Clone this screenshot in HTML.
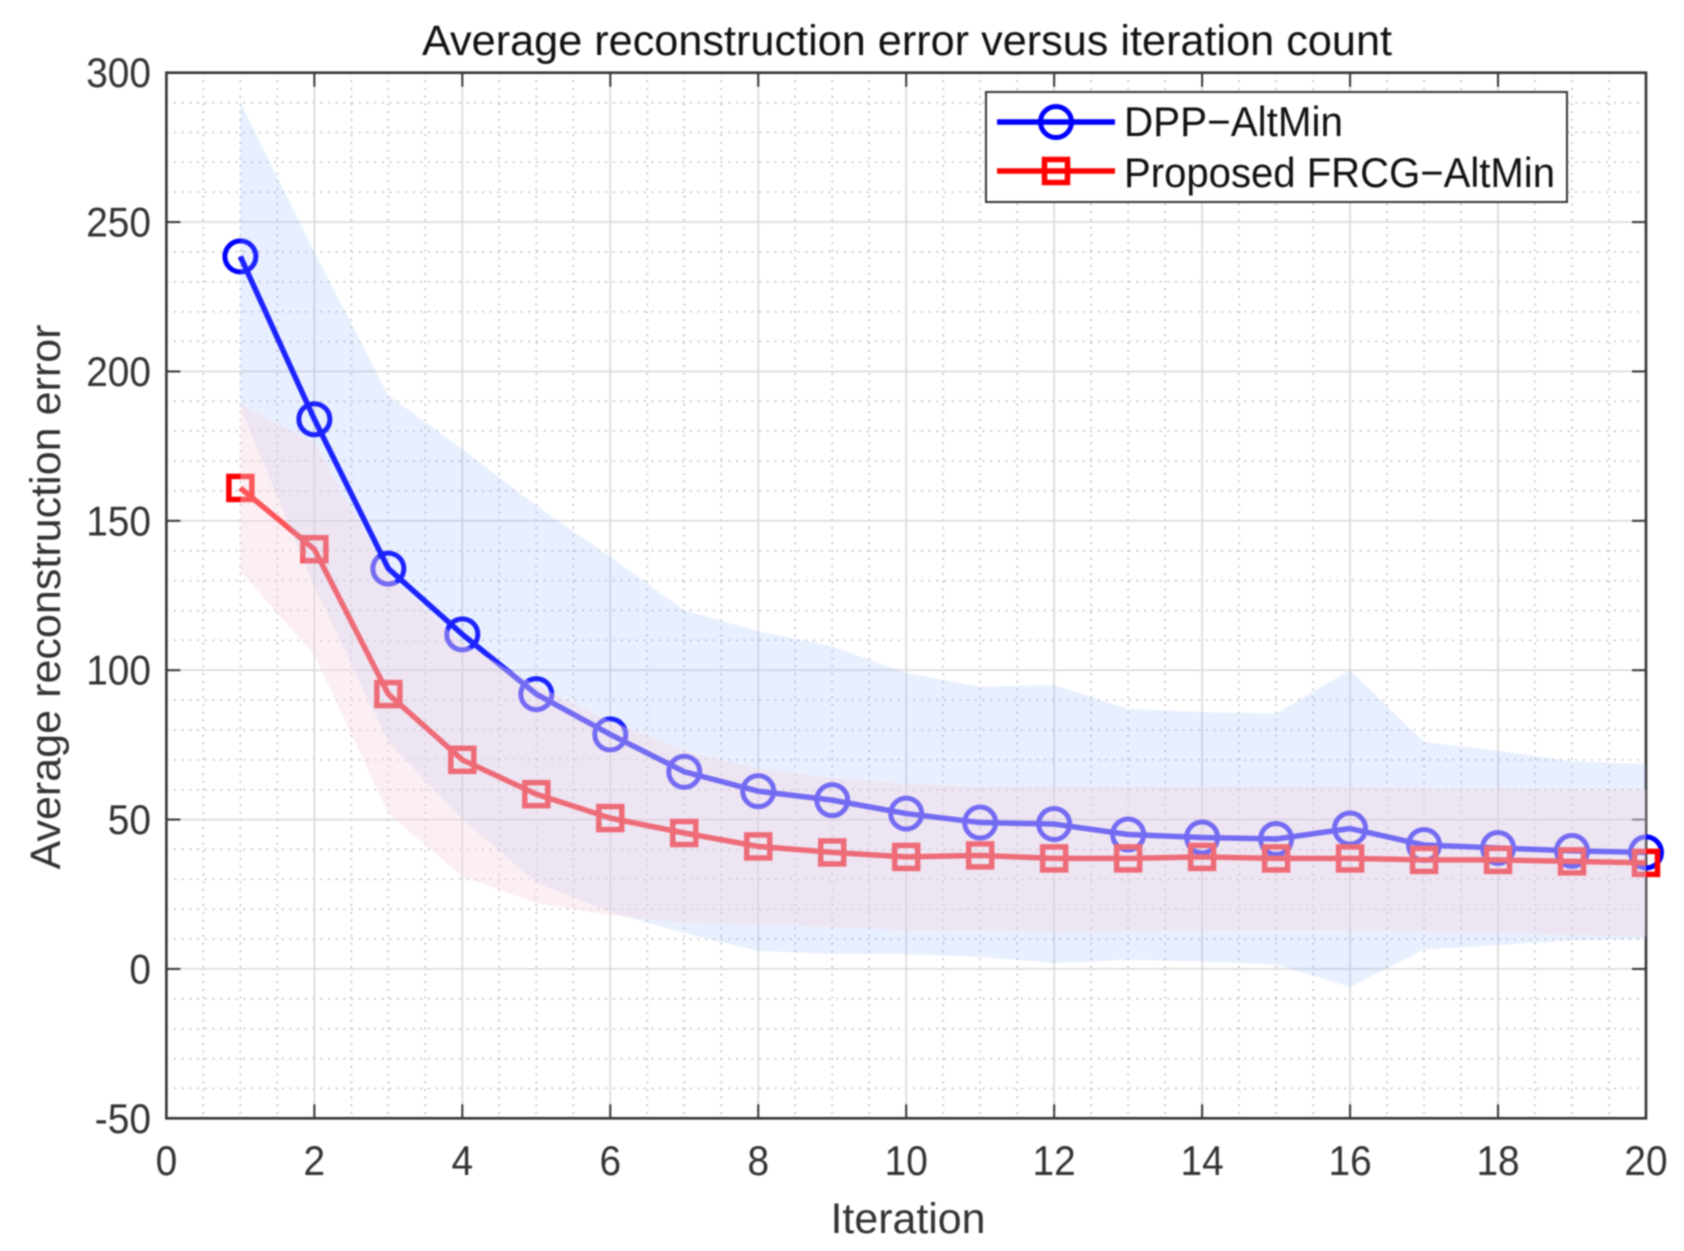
<!DOCTYPE html>
<html>
<head>
<meta charset="utf-8">
<title>Average reconstruction error versus iteration count</title>
<style>
html,body{margin:0;padding:0;background:#fff;}
#chart{display:block;width:1684px;height:1251px;filter:blur(0.7px);}
text{font-family:"Liberation Sans",sans-serif;}
</style>
</head>
<body>
<svg id="chart" xmlns="http://www.w3.org/2000/svg" width="1684" height="1251" viewBox="0 0 1684 1251">
<rect x="0" y="0" width="1684" height="1251" fill="#fff"/>
<text x="907" y="55" font-size="42.5" text-anchor="middle" fill="#111" textLength="970" lengthAdjust="spacingAndGlyphs">Average reconstruction error versus iteration count</text>
<text x="908" y="1233" font-size="42.5" text-anchor="middle" fill="#333" textLength="155" lengthAdjust="spacingAndGlyphs">Iteration</text>
<text transform="translate(60,597) rotate(-90)" font-size="42.5" text-anchor="middle" fill="#333" textLength="545" lengthAdjust="spacingAndGlyphs">Average reconstruction error</text>
<g id="grid"></g>
<g id="axes"></g>
<g id="lines"></g>
<g id="bands"></g>
<g>
<rect x="986" y="92" width="581" height="110" fill="#fff" stroke="#333" stroke-width="2"/>
<g>
<line x1="997" y1="122" x2="1115" y2="122" stroke="#0000ff" stroke-width="5.5"/>
<circle cx="1056" cy="122" r="15.5" fill="none" stroke="#0000ff" stroke-width="5"/>
<text x="1124" y="136" font-size="41.5" fill="#111" textLength="219" lengthAdjust="spacingAndGlyphs">DPP−AltMin</text>
</g>
<g>
<line x1="997" y1="171" x2="1115" y2="171" stroke="#ff0000" stroke-width="5.5"/>
<rect x="1044.5" y="159.5" width="23" height="23" fill="none" stroke="#ff0000" stroke-width="5.5"/>
<text x="1124" y="187" font-size="41.5" fill="#111" textLength="431" lengthAdjust="spacingAndGlyphs">Proposed FRCG−AltMin</text>
</g>
</g>
</svg>
<script>
const iterations = [1,2,3,4,5,6,7,8,9,10,11,12,13,14,15,16,17,18,19,20];
const dppMean = [238.5,184,134,112,92,78.5,66,59.5,56.5,52,49,48.5,45,44,43.5,47,41.5,40.5,39.5,39];
const dppUpper = [290,240,192,174,155,138,120,113,108,99,94.5,95,87,86,85.5,100,76,73,69.5,68.5];
const dppLower = [188,128,76,50,29,19,12,6,5,5,4,2,3,2.5,1.5,-6,6.5,8,9.5,10];
const frcgMean = [161,140.5,92,70,58.5,50.5,45.5,41,39,37.5,38,37,37,37.5,37,37,36.5,36.5,36,35.5];
const frcgUpper = [189,176,132,109,95,83,73,67,64,62,61,61,61,61,61,61,60.5,60.5,60,60];
const frcgLower = [133,105,52,31,22,18,15.5,15,14,13,13,12.5,12.5,13,13,13,12.5,12,11.5,11];
const xTickValues = [0,2,4,6,8,10,12,14,16,18,20];
const yTickValues = [-50,0,50,100,150,200,250,300];
const xDomain = [0,20];
const yDomain = [-50,300];

const SVGNS = 'http://www.w3.org/2000/svg';
const plot = {left:166.4,right:1646,top:72.7,bottom:1118.3};
function sx(v){return plot.left+(v-xDomain[0])/(xDomain[1]-xDomain[0])*(plot.right-plot.left);}
function sy(v){return plot.bottom-(v-yDomain[0])/(yDomain[1]-yDomain[0])*(plot.bottom-plot.top);}
function mk(tag,parent,attrs){
  const el=document.createElementNS(SVGNS,tag);
  for(const k in attrs){el.setAttribute(k,attrs[k]);}
  parent.appendChild(el);
  return el;
}
const gridG=document.getElementById('grid');
const axesG=document.getElementById('axes');
const linesG=document.getElementById('lines');
const bandsG=document.getElementById('bands');

// minor grid
for(let v=xDomain[0]+0.5;v<xDomain[1];v+=0.5){
  if(Math.abs(v/2-Math.round(v/2))<1e-6)continue;
  const el=mk('line',gridG,{x1:sx(v),x2:sx(v),y1:plot.top,y2:plot.bottom,stroke:'#bcbcbc','stroke-width':1.7,'stroke-dasharray':'1.7 6'});
  
  
}
for(let v=yDomain[0]+10;v<yDomain[1];v+=10){
  if(Math.abs(v/50-Math.round(v/50))<1e-6)continue;
  const el=mk('line',gridG,{x1:plot.left,x2:plot.right,y1:sy(v),y2:sy(v),stroke:'#bcbcbc','stroke-width':1.7,'stroke-dasharray':'1.7 6'});
  
  
}
// major grid, ticks and labels
xTickValues.forEach(function(v){
  const g=mk('line',gridG,{x1:sx(v),x2:sx(v),y1:plot.top,y2:plot.bottom,stroke:'#dadada','stroke-width':1.7});
  
  
  const t1=mk('line',axesG,{x1:sx(v),x2:sx(v),y1:plot.bottom,y2:plot.bottom-14,stroke:'#333','stroke-width':2});
  
  
  const t2=mk('line',axesG,{x1:sx(v),x2:sx(v),y1:plot.top,y2:plot.top+14,stroke:'#333','stroke-width':2});
  
  
  const lab=mk('text',axesG,{x:sx(v),y:1175,'font-size':41.5,'text-anchor':'middle',fill:'#333',textLength:String(v).length*21.6,lengthAdjust:'spacingAndGlyphs'});
  
  
  lab.textContent=String(v);
});
yTickValues.forEach(function(v){
  const g=mk('line',gridG,{x1:plot.left,x2:plot.right,y1:sy(v),y2:sy(v),stroke:'#dadada','stroke-width':1.7});
  
  
  const t1=mk('line',axesG,{x1:plot.left,x2:plot.left+14,y1:sy(v),y2:sy(v),stroke:'#333','stroke-width':2});
  
  
  const t2=mk('line',axesG,{x1:plot.right,x2:plot.right-14,y1:sy(v),y2:sy(v),stroke:'#333','stroke-width':2});
  
  
  const s=String(v);
  const lab=mk('text',axesG,{x:151,y:sy(v)+14.5,'font-size':41.5,'text-anchor':'end',fill:'#333',textLength:(v<0?13:0)+s.replace('-','').length*21.6,lengthAdjust:'spacingAndGlyphs'});
  
  
  lab.textContent=s;
});
const frame=mk('rect',axesG,{x:plot.left,y:plot.top,width:plot.right-plot.left,height:plot.bottom-plot.top,fill:'none',stroke:'#333','stroke-width':2.6});



// series (drawn beneath the translucent bands, as in the reference)
function linePoints(ys){return iterations.map(function(x,i){return sx(x)+','+sy(ys[i]);}).join(' ');}
const blueLine=mk('polyline',linesG,{points:linePoints(dppMean),fill:'none',stroke:'#0000ff','stroke-width':5.5,'stroke-linejoin':'round'});


iterations.forEach(function(x,i){
  const c=mk('circle',linesG,{cx:sx(x),cy:sy(dppMean[i]),r:15.5,fill:'none',stroke:'#0000ff','stroke-width':5});
  
  
});
const redLine=mk('polyline',linesG,{points:linePoints(frcgMean),fill:'none',stroke:'#ff0000','stroke-width':5.5,'stroke-linejoin':'round'});


iterations.forEach(function(x,i){
  const r=mk('rect',linesG,{x:sx(x)-11.5,y:sy(frcgMean[i])-11.5,width:23,height:23,fill:'none',stroke:'#ff0000','stroke-width':5.5});
  
  
});
function bandPoints(upper,lower){
  const top=iterations.map(function(x,i){return sx(x)+','+sy(upper[i]);});
  const bot=iterations.map(function(x,i){return sx(x)+','+sy(lower[i]);}).reverse();
  return top.concat(bot).join(' ');
}
const blueBand=mk('polygon',bandsG,{points:bandPoints(dppUpper,dppLower),fill:'rgb(140,175,250)','fill-opacity':0.2});


const redBand=mk('polygon',bandsG,{points:bandPoints(frcgUpper,frcgLower),fill:'rgb(248,215,224)','fill-opacity':0.4});


</script>
</body>
</html>
